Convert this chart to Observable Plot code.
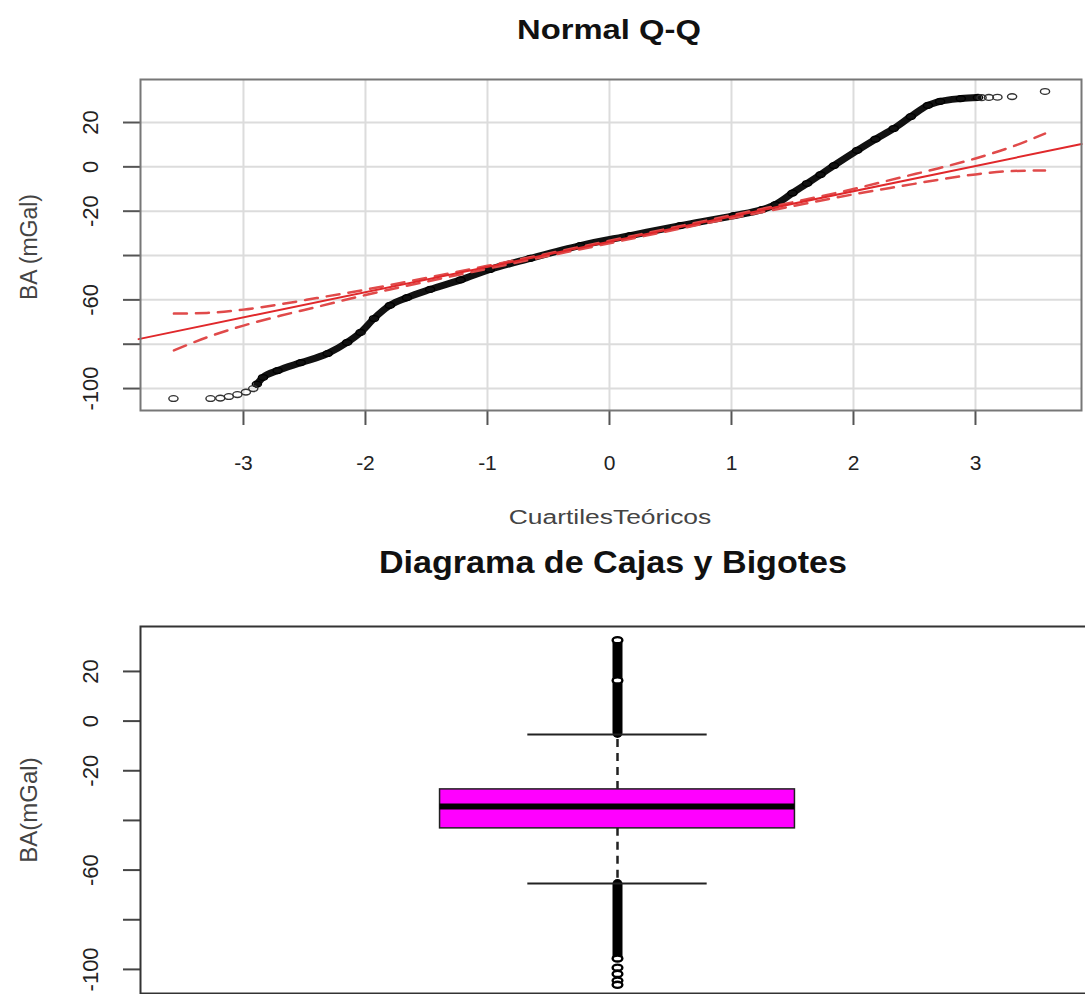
<!DOCTYPE html>
<html><head><meta charset="utf-8">
<script src="https://cdn.jsdelivr.net/npm/d3@7"></script>
<script src="https://cdn.jsdelivr.net/npm/@observablehq/plot@0.6"></script>
<style>
html,body{margin:0;padding:0;background:#fff;}
body{overflow:hidden;width:1085px;height:994px;position:relative;font-family:"Liberation Sans",Arial,sans-serif;}
.lbl{position:absolute;white-space:nowrap;transform-origin:center center;}
.panel{position:absolute;left:0;}
.panel svg{max-width:none !important;}
</style></head><body>
<div class="panel" id="qq" style="top:0"></div>
<div class="panel" id="box" style="top:590px"></div>
<div class="lbl" style="left:609px;top:30px;font-weight:bold;font-size:28px;color:#111;transform:translate(-50%,-50%) scaleX(1.17)">Normal Q-Q</div>
<div class="lbl" style="left:610px;top:517px;font-size:20px;color:#444;transform:translate(-50%,-50%) scaleX(1.32)">CuartilesTeóricos</div>
<div class="lbl" style="left:613px;top:563px;font-weight:bold;font-size:31px;color:#111;transform:translate(-50%,-50%) scaleX(1.1)">Diagrama de Cajas y Bigotes</div>
<div class="lbl" style="left:29px;top:247px;font-size:23px;color:#444;transform:translate(-50%,-50%) rotate(-90deg)">BA (mGal)</div>
<div class="lbl" style="left:29px;top:810px;font-size:24px;color:#444;transform:translate(-50%,-50%) rotate(-90deg)">BA(mGal)</div>
<script>
// ---------- data ----------
// Q-Q plot: theoretical quantile (z) and sample value (mGal)
const qqLowTailZ = [-3.574, -3.27, -3.19, -3.12, -3.05, -2.98, -2.92];
const qqLowTailV = [-104.5, -104.5, -104.3, -103.6, -102.7, -101.6, -100.0];
const qqHighTailZ = [3.05, 3.11, 3.18, 3.30, 3.57];
const qqHighTailV = [31.2, 31.3, 31.4, 31.7, 34.0];
const qqDenseZ = [-2.89, -2.84, -2.72, -2.53, -2.31, -2.15, -2.04, -1.93, -1.80, -1.66, -1.47, -1.22, -0.98, -0.65, -0.24, 0.17, 0.58, 1.02, 1.25, 1.36, 1.50, 1.62, 1.73, 1.84, 2.03, 2.18, 2.33, 2.47, 2.61, 2.71, 2.88, 3.02];
const qqDenseV = [-98.0, -95.0, -91.9, -88.3, -84.2, -79.2, -74.7, -68.4, -62.5, -59.0, -55.3, -51.0, -46.3, -41.3, -35.5, -31.0, -26.5, -22.0, -19.3, -17.0, -11.8, -7.5, -3.5, 0.6, 7.4, 12.5, 17.3, 22.7, 27.7, 29.5, 30.8, 31.3];
// reference line (solid red) end points
const refLineZ = [-3.86, 3.87];
const refLineV = [-77.7, 10.3];
// confidence envelope (dashed red)
const bandZ = [-3.57, -3.3, -3.0, -2.7, -2.4, -2.0, -1.5, -1.0, 0, 1.0, 1.5, 2.0, 2.4, 2.7, 3.0, 3.3, 3.57];
const bandUpper = [-66.2, -65.9, -64.4, -62.0, -59.2, -55.4, -50.05, -44.65, -33.35, -21.85, -16.0, -10.0, -4.6, -0.6, 3.8, 9.1, 15.0];
const bandLower = [-82.8, -76.9, -71.6, -67.2, -63.2, -57.8, -51.75, -45.95, -34.45, -23.15, -17.7, -12.4, -8.6, -5.8, -3.4, -1.9, -1.6];
// axis ticks
const qqXTicks = [-3, -2, -1, 0, 1, 2, 3];
const yTicks = [20, 0, -20, -40, -60, -80, -100];
const yTickLabelled = [20, 0, -20, -60, -100];

// Box plot statistics (mGal)
const boxStats = {lowerWhisker: -65.4, q1: -43.2, median: -34.4, q3: -27.5, upperWhisker: -5.4};
const outlierBandHigh = [-5.0, 31.2];   // continuous run of outliers above
const outlierBandLow = [-65.8, -95.0];  // continuous run of outliers below
const outlierDots = [32.6, 16.4, -95.6, -99.3, -101.8, -104.5, -106.2];

// ---------- helpers ----------
const ellipse = {draw(ctx, size) {
  const r = Math.sqrt(size / Math.PI), rx = r * 1.35, ry = r * 0.85, k = 0.5523;
  ctx.moveTo(rx, 0);
  ctx.bezierCurveTo(rx, ry * k, rx * k, ry, 0, ry);
  ctx.bezierCurveTo(-rx * k, ry, -rx, ry * k, -rx, 0);
  ctx.bezierCurveTo(-rx, -ry * k, -rx * k, -ry, 0, -ry);
  ctx.bezierCurveTo(rx * k, -ry, rx, -ry * k, rx, 0);
  ctx.closePath();
}};
const zip = (zs, vs) => zs.map((z, i) => ({z, v: vs[i]}));
const dense = zip(qqDenseZ, qqDenseV);
const tails = zip(qqLowTailZ, qqLowTailV).concat(zip(qqHighTailZ, qqHighTailV));
const refLine = zip(refLineZ, refLineV);
const upper = zip(bandZ, bandUpper);
const lower = zip(bandZ, bandLower);
const fmtY = d => yTickLabelled.includes(d) ? String(d) : "";
const font = "'Liberation Sans', Arial, sans-serif";

const qq = Plot.plot({
  width: 1085, height: 500,
  marginTop: 79, marginBottom: 90, marginLeft: 140, marginRight: 4,
  x: {domain: [-3.844, 3.869]},
  y: {domain: [-109.9, 39.4]},
  style: {fontFamily: font, fontSize: "21px", color: "#222", background: "white", overflow: "visible", maxWidth: "none"},
  marks: [
    Plot.gridX(qqXTicks, {stroke: "#dcdcdc", strokeOpacity: 1, strokeWidth: 2}),
    Plot.gridY(yTicks, {stroke: "#dcdcdc", strokeOpacity: 1, strokeWidth: 2}),
    Plot.axisX(qqXTicks, {tickSize: 15, tickPadding: 30, tickFormat: d => String(d), label: null, stroke: "#555", strokeWidth: 2, fill: "#222", fontSize: 21}),
    Plot.axisY(yTicks, {tickSize: 17, tickPadding: 26, tickRotate: -90, tickFormat: fmtY, label: null, stroke: "#555", strokeWidth: 2, fill: "#222", fontSize: 22}),
    Plot.line(dense, {x: "z", y: "v", stroke: "#111", strokeWidth: 7, curve: "monotone-x"}),
    Plot.dot(dense, {x: "z", y: "v", r: 3.4, symbol: ellipse, stroke: "#000", strokeWidth: 1.4, fill: "none"}),
    Plot.dot(tails, {x: "z", y: "v", r: 3.4, symbol: ellipse, stroke: "#333", strokeWidth: 1.4, fill: "none"}),
    Plot.line(upper, {x: "z", y: "v", stroke: "#e04a4a", strokeWidth: 2.5, strokeDasharray: "13,9", curve: "monotone-x"}),
    Plot.line(lower, {x: "z", y: "v", stroke: "#e04a4a", strokeWidth: 2.5, strokeDasharray: "13,9", curve: "monotone-x"}),
    Plot.line(refLine, {x: "z", y: "v", stroke: "#e0282b", strokeWidth: 2}),
    Plot.frame({stroke: "#777", strokeWidth: 2})
  ]
});
document.getElementById("qq").appendChild(qq);

const bc = 1, boxHalf = 0.186, capHalf = 0.094;
const box = Plot.plot({
  width: 1100, height: 404,
  marginTop: 36, marginBottom: 1, marginLeft: 140, marginRight: 6,
  x: {domain: [0.5, 1.5], axis: null},
  y: {domain: [-109.7, 38.1]},
  style: {fontFamily: font, fontSize: "21px", color: "#222", background: "white", overflow: "visible", maxWidth: "none"},
  marks: [
    Plot.axisY(yTicks, {tickSize: 17, tickPadding: 26, tickRotate: -90, tickFormat: fmtY, label: null, stroke: "#444", strokeWidth: 2, fill: "#222", fontSize: 22}),
    Plot.ruleX([outlierBandHigh, outlierBandLow], {x: () => bc, y1: d => d[0], y2: d => d[1], stroke: "#000", strokeWidth: 10, strokeLinecap: "round"}),
    Plot.dot(outlierDots, {x: () => bc, y: d => d, r: 3.6, symbol: ellipse, stroke: "#000", strokeWidth: 2.4, fill: "#fff"}),
    Plot.ruleX([[boxStats.q3, boxStats.upperWhisker], [boxStats.q1, boxStats.lowerWhisker]], {x: () => bc, y1: d => d[0], y2: d => d[1], stroke: "#222", strokeWidth: 2.5, strokeDasharray: "8,6"}),
    Plot.ruleY([boxStats.upperWhisker, boxStats.lowerWhisker], {y: d => d, x1: bc - capHalf, x2: bc + capHalf, stroke: "#222", strokeWidth: 2}),
    Plot.rect([boxStats], {x1: bc - boxHalf, x2: bc + boxHalf, y1: "q1", y2: "q3", fill: "#ff00ff", stroke: "#222", strokeWidth: 1.5}),
    Plot.ruleY([boxStats.median], {y: d => d, x1: bc - boxHalf, x2: bc + boxHalf, stroke: "#000", strokeWidth: 6}),
    Plot.frame({stroke: "#333", strokeWidth: 2})
  ]
});
document.getElementById("box").appendChild(box);
</script>
</body></html>
